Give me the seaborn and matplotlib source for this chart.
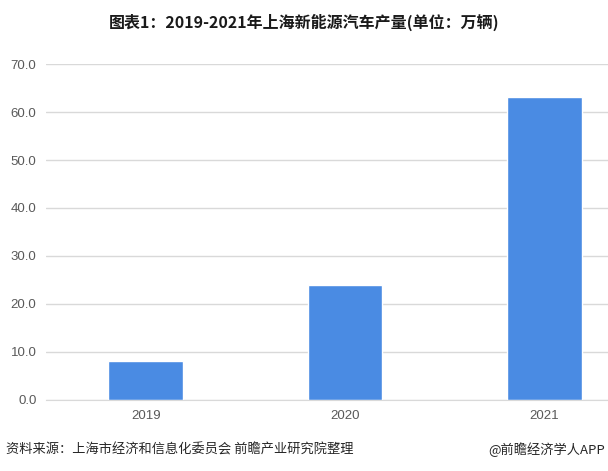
import matplotlib
matplotlib.use('Agg')
import matplotlib.pyplot as plt
import seaborn as sns
import pandas as pd

# data
years = ['2019', '2020', '2021']
output = [8.2, 23.9, 63.2]   # 万辆

df = pd.DataFrame({'year': years, 'output': output})

sns.set_style('white')
plt.rcParams['font.family'] = ['Noto Sans CJK SC', 'DejaVu Sans']

fig = plt.figure(figsize=(6.08, 4.71), dpi=100)
ax = fig.add_axes([0.076, 0.151, 0.924, 0.713])

sns.barplot(data=df, x='year', y='output', color='#4a8be3', width=0.375,
            saturation=1, ax=ax)

ax.set_ylim(0, 70)
ax.set_xlim(-0.5, 2.32)
ax.set_yticks(range(0, 71, 10))
ax.set_yticklabels([f'{v:.1f}' for v in range(0, 71, 10)])
ax.yaxis.grid(True, color='#d9d9d9', linewidth=1)
ax.set_axisbelow(True)
for s in ['top', 'right', 'left']:
    ax.spines[s].set_visible(False)
ax.spines['bottom'].set_color('#d9d9d9')
ax.tick_params(axis='both', length=0, labelsize=9.5, colors='#595959', pad=7)
for lab in ax.get_xticklabels() + ax.get_yticklabels():
    lab.set_family(['Liberation Sans', 'DejaVu Sans'])
ax.set_xlabel('')
ax.set_ylabel('')

fig.text(0.5, 0.953, '图表1：2019-2021年上海新能源汽车产量(单位：万辆)',
         ha='center', va='center', fontsize=11.5, fontweight='bold', color='#1a1a1a')
fig.text(0.01, 0.045, '资料来源：上海市经济和信息化委员会 前瞻产业研究院整理',
         ha='left', va='center', fontsize=9.5, color='#262626')
fig.text(0.995, 0.045, '@前瞻经济学人APP',
         ha='right', va='center', fontsize=9.5, color='#262626')

fig.savefig('out.png', dpi=100)
